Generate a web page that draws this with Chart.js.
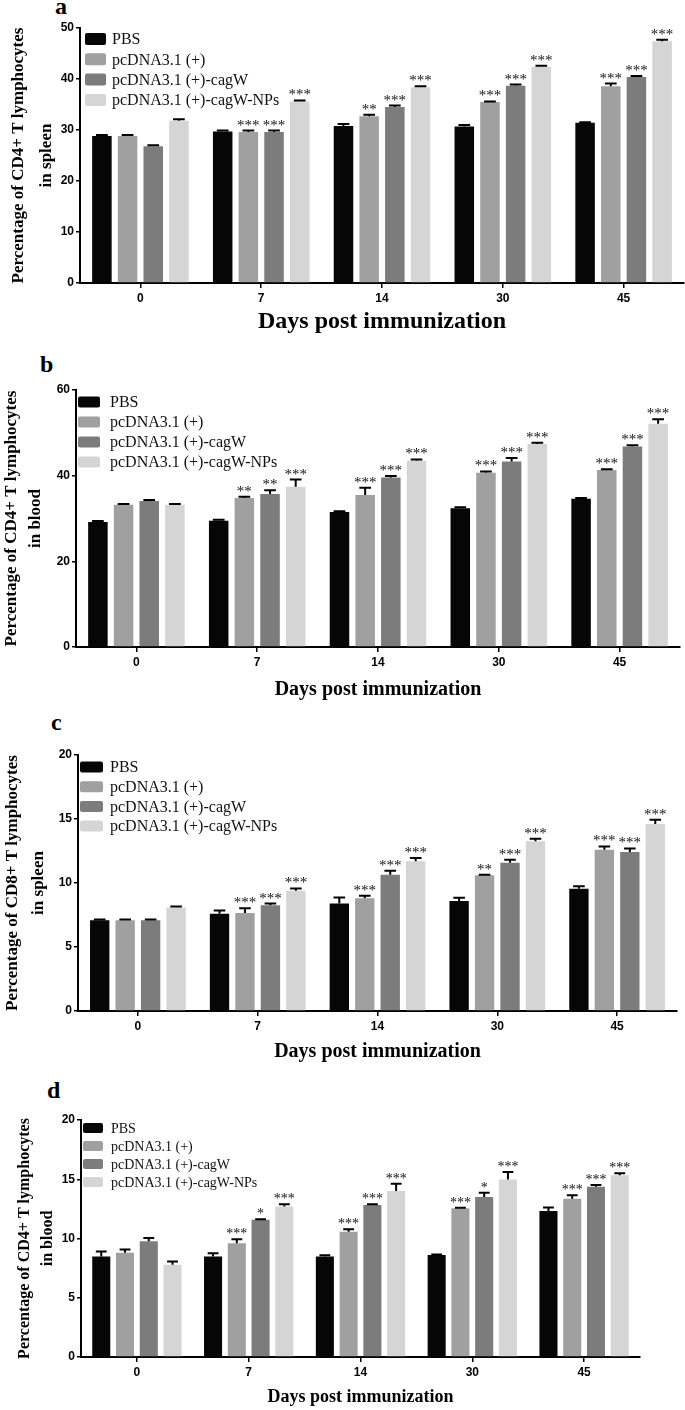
<!DOCTYPE html>
<html lang="en">
<head>
<meta charset="UTF-8">
<title>CD4+ / CD8+ T lymphocytes</title>
<script src="https://cdn.jsdelivr.net/npm/chart.js"></script>
<style>
  html, body { margin: 0; padding: 0; background: #fff; }
  body { width: 685px; height: 1410px; position: relative; overflow: hidden; }
  .panel { position: absolute; left: 0; width: 685px; }
  .letter { position: absolute; font: bold 24px "Liberation Serif", "Times New Roman", serif; line-height: 24px; color: #000; }
</style>
</head>
<body>
<div class="letter" style="left:55px;top:-6px">a</div>
<div class="letter" style="left:40px;top:352px">b</div>
<div class="letter" style="left:51px;top:710px">c</div>
<div class="letter" style="left:47px;top:1078px">d</div>

<div class="panel" style="top:0;height:340px"><canvas id="chartA"></canvas></div>
<div class="panel" style="top:340px;height:365px"><canvas id="chartB"></canvas></div>
<div class="panel" style="top:700px;height:365px"><canvas id="chartC"></canvas></div>
<div class="panel" style="top:1060px;height:350px"><canvas id="chartD"></canvas></div>

<script>
// categories
const days = ['0', '7', '14', '30', '45'];
const groups = ['PBS', 'pcDNA3.1 (+)', 'pcDNA3.1 (+)-cagW', 'pcDNA3.1 (+)-cagW-NPs'];

// a: CD4+ in spleen
const aPBS = [28.8, 29.7, 30.8, 30.7, 31.4];
const aPc = [28.8, 29.6, 32.7, 35.5, 38.6];
const aCag = [26.8, 29.6, 34.5, 38.7, 40.4];
const aNP = [31.8, 35.6, 38.4, 42.4, 47.4];
const aPBSerr = [0.2, 0.2, 0.4, 0.3, 0.1];
const aPcErr = [0.2, 0.3, 0.3, 0.1, 0.5];
const aCagErr = [0.2, 0.3, 0.3, 0.2, 0.2];
const aNPerr = [0.3, 0.2, 0.2, 0.2, 0.3];
const aPcSig = ['', '***', '**', '***', '***'];
const aCagSig = ['', '***', '***', '***', '***'];
const aNPsig = ['', '***', '***', '***', '***'];

// b: CD4+ in blood
const bPBS = [29.2, 29.5, 31.5, 32.4, 34.6];
const bPc = [33.2, 34.8, 35.5, 40.7, 41.3];
const bCag = [34.1, 35.7, 39.6, 43.3, 46.8];
const bNP = [33.2, 37.4, 43.5, 47.4, 52.1];
const bPBSerr = [0.2, 0.2, 0.2, 0.2, 0.2];
const bPcErr = [0.2, 0.3, 1.7, 0.3, 0.2];
const bCagErr = [0.2, 0.9, 0.3, 0.8, 0.3];
const bNPerr = [0.2, 1.7, 0.3, 0.3, 1.1];
const bPcSig = ['', '**', '***', '***', '***'];
const bCagSig = ['', '**', '***', '***', '***'];
const bNPsig = ['', '***', '***', '***', '***'];

// c: CD8+ in spleen
const cPBS = [7.09, 7.6, 8.39, 8.59, 9.55];
const cPc = [7.09, 7.66, 8.8, 10.6, 12.6];
const cCag = [7.09, 8.26, 10.65, 11.58, 12.42];
const cNP = [8.08, 9.4, 11.69, 13.27, 14.6];
const cPBSerr = [0.05, 0.26, 0.47, 0.26, 0.2];
const cPcErr = [0.05, 0.36, 0.2, 0.05, 0.26];
const cCagErr = [0.05, 0.13, 0.3, 0.23, 0.28];
const cNPerr = [0.08, 0.18, 0.26, 0.18, 0.34];
const cPcSig = ['', '***', '***', '**', '***'];
const cCagSig = ['', '***', '***', '***', '***'];
const cNPsig = ['', '***', '***', '***', '***'];

// d: CD4+ in blood
const dPBS = [8.48, 8.48, 8.48, 8.6, 12.33];
const dPc = [8.79, 9.6, 10.57, 12.55, 13.36];
const dCag = [9.76, 11.58, 12.83, 13.5, 14.37];
const dNP = [7.78, 12.69, 14.0, 14.98, 15.34];
const dPBSerr = [0.42, 0.28, 0.1, 0.05, 0.28];
const dPcErr = [0.28, 0.33, 0.22, 0.05, 0.28];
const dCagErr = [0.28, 0.05, 0.05, 0.36, 0.14];
const dNPerr = [0.28, 0.2, 0.61, 0.64, 0.17];
const dPcSig = ['', '***', '***', '***', '***'];
const dCagSig = ['', '*', '***', '*', '***'];
const dNPsig = ['', '***', '***', '***', '***'];

const barColors = ['#060606', '#a0a0a0', '#7c7c7c', '#d5d5d5'];
const noSig = ['', '', '', '', ''];

// error bars, stars and legend drawn on top of the bars
const extrasPlugin = {
  id: 'extras',
  afterDatasetsDraw(chart, args, opts) {
    const ctx = chart.ctx;
    const yScale = chart.scales.y;
    ctx.save();
    chart.data.datasets.forEach((ds, i) => {
      chart.getDatasetMeta(i).data.forEach((bar, j) => {
        const yTop = yScale.getPixelForValue(ds.data[j] + ds.err[j]);
        const half = bar.width * 0.3;
        ctx.strokeStyle = '#000';
        ctx.lineWidth = 2;
        ctx.beginPath();
        ctx.moveTo(bar.x, bar.y);
        ctx.lineTo(bar.x, yTop);
        ctx.moveTo(bar.x - half, yTop);
        ctx.lineTo(bar.x + half, yTop);
        ctx.stroke();
        if (ds.sig[j]) {
          ctx.fillStyle = '#111';
          ctx.font = opts.starSize + 'px "Liberation Serif", serif';
          ctx.textAlign = 'center';
          ctx.textBaseline = 'alphabetic';
          ctx.fillText(ds.sig[j], bar.x, yTop - 1);
        }
      });
    });
    // legend
    const lg = opts.legend;
    const left = chart.chartArea.left;
    const top = chart.chartArea.top;
    ctx.font = lg.size + 'px "Liberation Serif", serif';
    ctx.textAlign = 'left';
    ctx.textBaseline = 'middle';
    chart.data.datasets.forEach((ds, i) => {
      const cy = top + lg.y0 + i * lg.dy;
      ctx.fillStyle = ds.backgroundColor;
      ctx.beginPath();
      ctx.roundRect(left + lg.x, cy - lg.bh / 2, lg.bw, lg.bh, 2);
      ctx.fill();
      ctx.fillStyle = '#111';
      ctx.fillText(ds.label, left + lg.tx, cy + 1);
    });
    ctx.restore();
  }
};

function makePanel(id, p) {
  const datasets = groups.map((name, i) => ({
    label: name,
    data: p.values[i],
    err: p.errs[i],
    sig: p.sigs[i],
    backgroundColor: barColors[i],
    barPercentage: 0.76,
    categoryPercentage: 0.85
  }));
  const tickFont = { family: '"Liberation Sans", Arial, sans-serif', weight: 'bold', size: 12 };
  new Chart(document.getElementById(id), {
    type: 'bar',
    data: { labels: days, datasets: datasets },
    plugins: [extrasPlugin],
    options: {
      responsive: true,
      maintainAspectRatio: false,
      animation: false,
      layout: { padding: { left: 0, right: 685 - p.right, top: p.top, bottom: 0 } },
      plugins: {
        legend: { display: false },
        tooltip: { enabled: false },
        extras: { legend: p.legend, starSize: p.starSize }
      },
      scales: {
        x: {
          offset: true,
          grid: { display: true, drawOnChartArea: false, drawTicks: true, tickLength: 5, offset: false, color: '#000', lineWidth: 1.5 },
          border: { color: '#000', width: 2 },
          ticks: { font: tickFont, color: '#000', padding: 3 },
          title: {
            display: true, text: 'Days post immunization', color: '#000',
            font: { family: '"Liberation Serif", "Times New Roman", serif', weight: 'bold', size: p.xtSize, lineHeight: 1.2 },
            padding: { top: 0, bottom: p.xtPad }
          },
          afterFit(s) { s.height = p.h - p.bottom; }
        },
        y: {
          min: 0, max: p.max,
          ticks: { stepSize: p.step, font: tickFont, color: '#000', padding: 2 },
          grid: { display: true, drawOnChartArea: false, drawTicks: true, tickLength: 4, color: '#000', lineWidth: 1.5 },
          border: { color: '#000', width: 2 },
          title: {
            display: true, text: p.ytitle, color: '#000',
            font: { family: '"Liberation Serif", "Times New Roman", serif', weight: 'bold', size: p.ytSize, lineHeight: p.ytLh },
            padding: { top: p.ytPad, bottom: 0 }
          },
          afterFit(s) { s.width = p.left; }
        }
      }
    }
  });
}

makePanel('chartA', {
  values: [aPBS, aPc, aCag, aNP], errs: [aPBSerr, aPcErr, aCagErr, aNPerr], sigs: [noSig, aPcSig, aCagSig, aNPsig],
  max: 50, step: 10, h: 340, left: 80, right: 684, top: 28, bottom: 283,
  ytitle: ['Percentage of CD4+ T lymphocytes', 'in spleen'], ytSize: 17, ytLh: 1.62, ytPad: 5,
  xtSize: 24, xtPad: 4, starSize: 15,
  legend: { x: 5, y0: 11, dy: 20.3, bw: 21, bh: 12, tx: 32, size: 16 }
});

makePanel('chartB', {
  values: [bPBS, bPc, bCag, bNP], errs: [bPBSerr, bPcErr, bCagErr, bNPerr], sigs: [noSig, bPcSig, bCagSig, bNPsig],
  max: 60, step: 20, h: 365, left: 76, right: 680, top: 50, bottom: 307,
  ytitle: ['Percentage of CD4+ T lymphocytes', 'in blood'], ytSize: 17, ytLh: 1.4, ytPad: 0,
  xtSize: 20, xtPad: 3, starSize: 15,
  legend: { x: 2, y0: 12, dy: 20, bw: 22, bh: 11, tx: 34, size: 16 }
});

makePanel('chartC', {
  values: [cPBS, cPc, cCag, cNP], errs: [cPBSerr, cPcErr, cCagErr, cNPerr], sigs: [noSig, cPcSig, cCagSig, cNPsig],
  max: 20, step: 5, h: 365, left: 78, right: 677, top: 55, bottom: 311,
  ytitle: ['Percentage of CD8+ T lymphocytes', 'in spleen'], ytSize: 17, ytLh: 1.5, ytPad: 0,
  xtSize: 20, xtPad: 1, starSize: 15,
  legend: { x: 2, y0: 12, dy: 19.7, bw: 23, bh: 11, tx: 32, size: 16 }
});

makePanel('chartD', {
  values: [dPBS, dPc, dCag, dNP], errs: [dPBSerr, dPcErr, dCagErr, dNPerr], sigs: [noSig, dPcSig, dCagSig, dNPsig],
  max: 20, step: 5, h: 350, left: 81, right: 640, top: 60, bottom: 297,
  ytitle: ['Percentage of CD4+ T lymphocytes', 'in blood'], ytSize: 16, ytLh: 1.4, ytPad: 14,
  xtSize: 18, xtPad: 2, starSize: 14,
  legend: { x: 2, y0: 8, dy: 18, bw: 20, bh: 10, tx: 30, size: 14 }
});
</script>
</body>
</html>
